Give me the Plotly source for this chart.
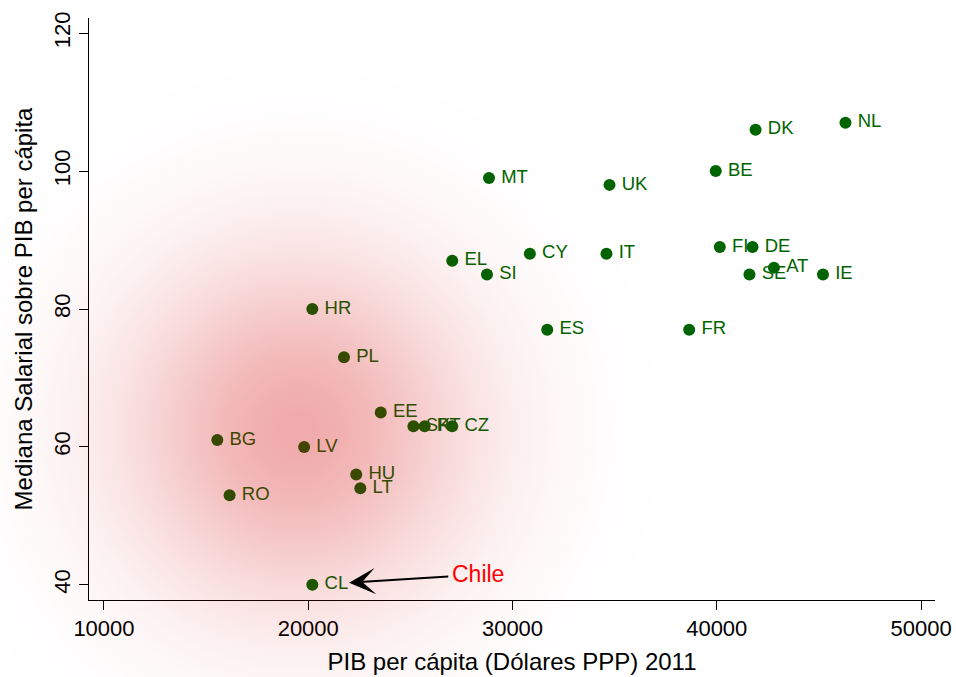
import base64, struct, zlib
import numpy as np
import plotly.graph_objects as go

# ---- data ----
countries = ["NL", "DK", "BE", "MT", "UK", "FI", "DE", "CY", "IT", "EL", "AT", "SE", "IE", "SI",
             "HR", "ES", "FR", "PL", "EE", "SK", "PT", "CZ", "BG", "LV", "HU", "LT", "RO", "CL"]
gdp_pc = [46300, 41900, 39950, 28850, 34750, 40150, 41750, 30850, 34600, 27050, 42800, 41600, 45200, 28750,
          20200, 31700, 38650, 21750, 23550, 25150, 25700, 27050, 15550, 19800, 22350, 22550, 16150, 20200]
wage_ratio = [107, 106, 100, 99, 98, 89, 89, 88, 88, 87, 86, 85, 85, 85,
              80, 77, 77, 73, 65, 63, 63, 63, 61, 60, 56, 54, 53, 40]
x_ticks = [10000, 20000, 30000, 40000, 50000]
y_ticks = [40, 60, 80, 100, 120]

W, H = 956, 677
ML, MR, MT, MB = 89, 21, 18, 77
PW, PH = W - ML - MR, H - MT - MB

GREEN = "#006400"
FONT = "Liberation Sans, Arial, sans-serif"


def png_uri(rgba):
    h, w, _ = rgba.shape
    raw = b"".join(b"\x00" + rgba[i].tobytes() for i in range(h))

    def chunk(t, d):
        return struct.pack(">I", len(d)) + t + d + struct.pack(">I", zlib.crc32(t + d) & 0xFFFFFFFF)

    png = (b"\x89PNG\r\n\x1a\n" + chunk(b"IHDR", struct.pack(">IIBBBBB", w, h, 8, 6, 0, 0, 0))
           + chunk(b"IDAT", zlib.compress(raw, 9)) + chunk(b"IEND", b""))
    return "data:image/png;base64," + base64.b64encode(png).decode()


# radial red glow overlay (style only)
yy, xx = np.mgrid[0:H, 0:W].astype(float)
cx, cy = 297.0, 430.0
r = np.sqrt((xx - cx) ** 2 + (yy - cy) ** 2)
alpha = 0.33 * np.exp(-(r / 172.0) ** 2)
img = np.zeros((H, W, 4), dtype=np.uint8)
img[..., 0] = 210
img[..., 3] = np.clip(alpha * 255, 0, 255).astype(np.uint8)
glow = png_uri(img)

fig = go.Figure()
fig.add_trace(go.Scatter(
    x=gdp_pc, y=wage_ratio, text=["\u2009" + c for c in countries], mode="markers+text",
    textposition="middle right",
    marker=dict(color=GREEN, size=12, line=dict(width=0)),
    textfont=dict(color=GREEN, size=18.5, family=FONT),
    showlegend=False, cliponaxis=False,
))

fig.add_annotation(
    x=22000, y=40.3, xref="x", yref="y",
    ax=28300, ay=41.5, axref="x", ayref="y",
    text="Chile", font=dict(color="red", size=23, family=FONT),
    showarrow=True, arrowhead=3, arrowsize=2.2, arrowwidth=2, arrowcolor="black",
    standoff=0, startstandoff=2,
)

fig.add_layout_image(
    source=glow, xref="paper", yref="paper",
    x=-ML / PW, y=1 + MT / PH, sizex=W / PW, sizey=H / PH,
    xanchor="left", yanchor="top", sizing="stretch", layer="above",
)

fig.update_layout(
    width=W, height=H,
    margin=dict(l=ML, r=MR, t=MT, b=MB, autoexpand=False),
    paper_bgcolor="white", plot_bgcolor="white",
    font=dict(family=FONT, color="black"),
    xaxis=dict(
        range=[9267, 50684], tickvals=x_ticks, ticktext=[str(v) for v in x_ticks],
        showgrid=False, zeroline=False, showline=True, linecolor="black", linewidth=1,
        ticks="outside", ticklen=9, tickcolor="black", tickfont=dict(size=22), automargin=False,
        title=dict(text="PIB per cápita (Dólares PPP) 2011", font=dict(size=24), standoff=12),
    ),
    yaxis=dict(
        range=[37.8, 122.2], tickvals=y_ticks, ticktext=[str(v) for v in y_ticks],
        showgrid=False, zeroline=False, showline=True, linecolor="black", linewidth=1,
        ticks="outside", ticklen=9, tickcolor="black", tickfont=dict(size=22), tickangle=-90,
        automargin=False,
        title=dict(text="Mediana Salarial sobre PIB per cápita", font=dict(size=24), standoff=10),
    ),
)

fig.write_html("out.html", config={"displayModeBar": False},
               post_script="document.body.style.margin='0';")
